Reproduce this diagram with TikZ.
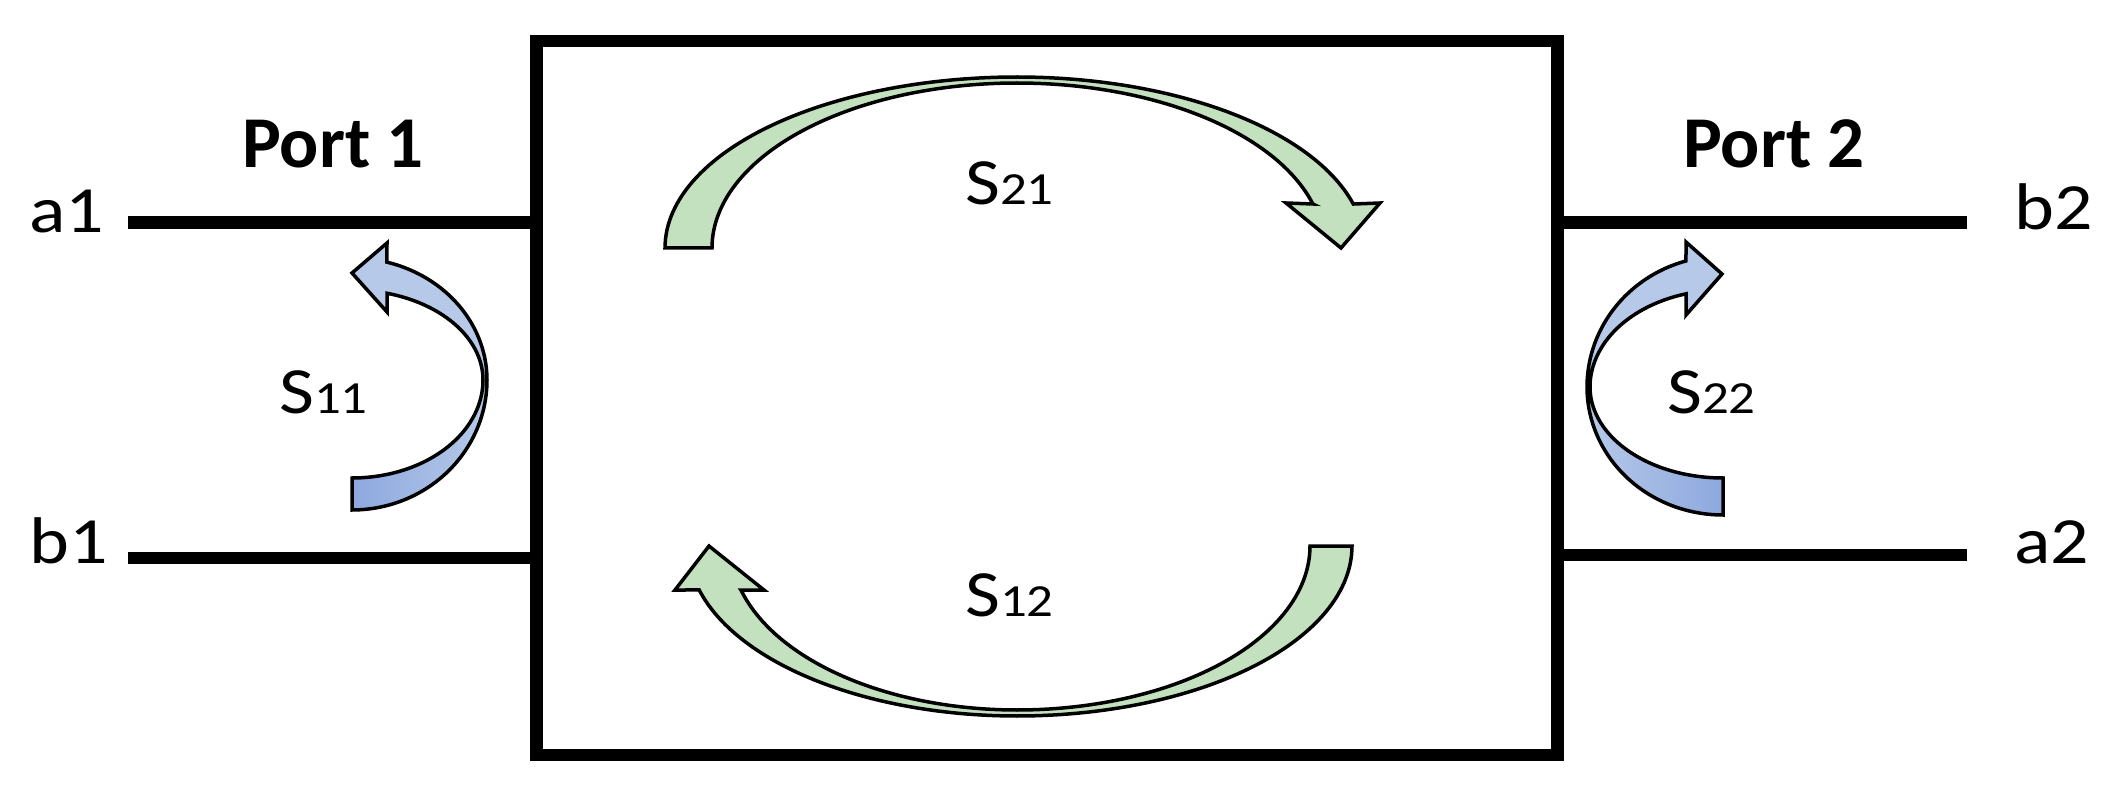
\documentclass[tikz,border=0pt]{standalone}
\usepackage{fontspec}
\setmainfont{Carlito}
\newfontfamily\lblfont[FakeStretch=1.15]{Carlito}
\definecolor{greenF}{RGB}{195,225,190}
\definecolor{blueL}{RGB}{182,201,233}
\definecolor{blueD}{RGB}{141,168,222}
\begin{document}
\begin{tikzpicture}[x=1pt,y=-1pt,
  portline/.style={line width=12.7pt},
  lbl/.style={font=\lblfont\fontsize{66}{70}\selectfont, inner sep=0pt, anchor=base west},
  slbl/.style={font=\lblfont\fontsize{66}{70}\selectfont, inner sep=0pt, anchor=base west},
  portlbl/.style={font=\bfseries\fontsize{73}{80}\selectfont, inner sep=0pt, anchor=base west},
  outl/.style={draw=black, line width=3.5pt}]
\useasboundingbox (0,0) rectangle (2113,799);
\node[draw, line width=12.7pt, minimum width=1021pt, minimum height=714pt, inner sep=0pt] (box) at (1046.75,398) {};
% port lines
\coordinate (pa1) at (128,222.5);
\coordinate (pb1) at (128,558);
\coordinate (pb2) at (1967,222.5);
\coordinate (pa2) at (1967,555);
\draw[portline] (pa1) -- (pa1 -| box.west);
\draw[portline] (pb1) -- (pb1 -| box.west);
\draw[portline] (pb2) -- (pb2 -| box.east);
\draw[portline] (pa2) -- (pa2 -| box.east);
% labels
\node[lbl] (la1) at (29,233) {a1};
\node[lbl] (lb1) at (29,563) {b1};
\node[lbl] (lb2) at (2014,230) {b2};
\node[lbl] (la2) at (2014,563) {a2};
\node[portlbl] (port1) at (242,168) {Port 1};
\node[portlbl] (port2) at (1683,168) {Port 2};
\node[slbl] (s11) at (279,414) {S{\fontsize{46}{50}\selectfont 11}};
\node[slbl] (s22) at (1667,414) {S{\fontsize{46}{50}\selectfont 22}};
\node[slbl] (s21) at (965,205) {S{\fontsize{46}{50}\selectfont 21}};
\node[slbl] (s12) at (965,616) {S{\fontsize{46}{50}\selectfont 12}};
% S21 arrow
\fill[greenF] plot[domain=180:270, samples=60] ({1017+352*cos(\x)},{248+171*sin(\x)})
  -- plot[domain=270:180, samples=60] ({1017+305*cos(\x)},{248+165*sin(\x)}) -- cycle;
\fill[greenF] (1017,77) -- plot[domain=270:345.1, samples=60] ({1017+348*cos(\x)},{248+171*sin(\x)})
  -- (1380,203) -- (1341,248) -- (1286,203) -- (1313,204)
  -- plot[domain=344.5:270, samples=60] ({1017+307*cos(\x)},{248+165*sin(\x)}) -- cycle;
\draw[outl] plot[domain=270:180, samples=60] ({1017+305*cos(\x)},{248+165*sin(\x)})
  -- plot[domain=180:270, samples=60] ({1017+352*cos(\x)},{248+171*sin(\x)});
\draw[outl] plot[domain=270:345.1, samples=60] ({1017+348*cos(\x)},{248+171*sin(\x)})
  -- (1380,203) -- (1341,248) -- (1286,203) -- (1313,204)
  -- plot[domain=344.5:270, samples=60] ({1017+307*cos(\x)},{248+165*sin(\x)});
% S12 arrow
\fill[greenF] plot[domain=0:90, samples=60] ({1017+335*cos(\x)},{546+170*sin(\x)})
  -- plot[domain=90:0, samples=60] ({1017+293*cos(\x)},{546+164*sin(\x)}) -- cycle;
\fill[greenF] (1017,716) -- plot[domain=90:165, samples=60] ({1017+329*cos(\x)},{546+170*sin(\x)})
  -- (675,590) -- (709,546) -- (764,590) -- (741,590)
  -- plot[domain=164.4:90, samples=60] ({1017+286.5*cos(\x)},{546+164*sin(\x)}) -- cycle;
\draw[outl] plot[domain=90:0, samples=60] ({1017+293*cos(\x)},{546+164*sin(\x)})
  -- plot[domain=0:90, samples=60] ({1017+335*cos(\x)},{546+170*sin(\x)});
\draw[outl] plot[domain=90:165, samples=60] ({1017+329*cos(\x)},{546+170*sin(\x)})
  -- (675,590) -- (709,546) -- (764,590) -- (741,590)
  -- plot[domain=164.4:90, samples=60] ({1017+286.5*cos(\x)},{546+164*sin(\x)});
% S11 arrow
\shade[left color=blueD, right color=blueL] plot[domain=0:90, samples=50] ({352+135*cos(\x)},{380+130*sin(\x)})
  -- (352,478) -- plot[domain=90:0, samples=50] ({352+131*cos(\x)},{380+98*sin(\x)}) -- cycle;
\draw[outl] plot[domain=0:90, samples=50] ({352+131*cos(\x)},{380+98*sin(\x)})
  -- plot[domain=90:0, samples=50] ({352+135*cos(\x)},{380+130*sin(\x)});
\fill[blueL] (387,262) -- plot[domain=-75:0, samples=50] ({352+135*cos(\x)},{380+122*sin(\x)})
  -- plot[domain=0:-74.5, samples=50] ({352+131*cos(\x)},{380+90*sin(\x)})
  -- (387,312) -- (352,273) -- (387,243) -- cycle;
\draw[outl] plot[domain=0:-75, samples=50] ({352+135*cos(\x)},{380+122*sin(\x)})
  -- (387,243) -- (352,273) -- (387,312)
  -- plot[domain=-74.5:0, samples=50] ({352+131*cos(\x)},{380+90*sin(\x)});
% S22 arrow
\shade[left color=blueL, right color=blueD] plot[domain=180:90, samples=50] ({1723+136*cos(\x)},{387+128*sin(\x)})
  -- (1723,478) -- plot[domain=90:180, samples=50] ({1723+133*cos(\x)},{387+91*sin(\x)}) -- cycle;
\draw[outl] plot[domain=180:90, samples=50] ({1723+133*cos(\x)},{387+91*sin(\x)})
  -- plot[domain=90:180, samples=50] ({1723+136*cos(\x)},{387+128*sin(\x)});
\fill[blueL] (1686,261) -- plot[domain=254.2:180, samples=50] ({1723+136*cos(\x)},{387+131*sin(\x)})
  -- plot[domain=180:253.9, samples=50] ({1723+133*cos(\x)},{387+97*sin(\x)})
  -- (1686,315) -- (1722,274) -- (1686,242) -- cycle;
\draw[outl] plot[domain=180:254.2, samples=50] ({1723+136*cos(\x)},{387+131*sin(\x)})
  -- (1686,242) -- (1722,274) -- (1686,315)
  -- plot[domain=253.9:180, samples=50] ({1723+133*cos(\x)},{387+97*sin(\x)});
\end{tikzpicture}
\end{document}
